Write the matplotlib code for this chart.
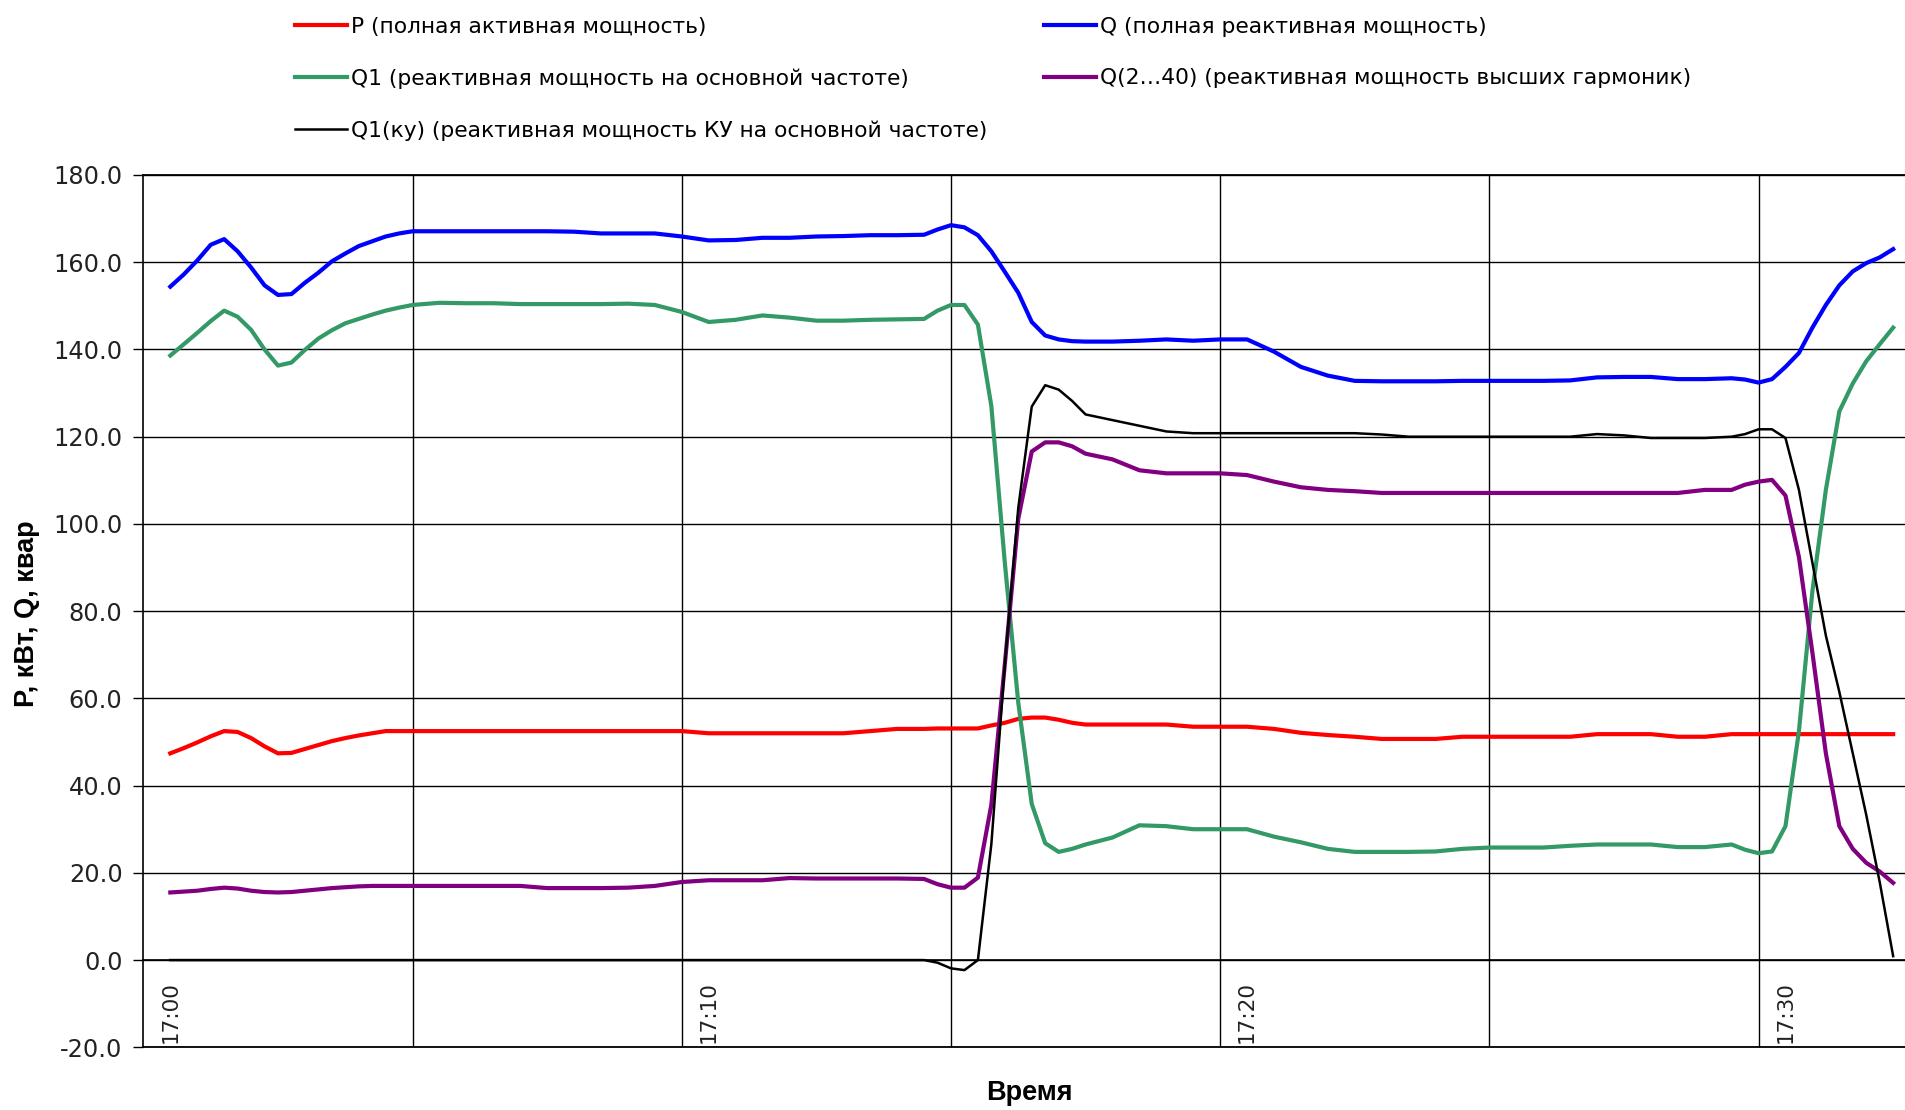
import numpy as np
import matplotlib
matplotlib.use("Agg")
import matplotlib.pyplot as plt
from matplotlib.ticker import FixedLocator, FormatStrFormatter

# время, минуты от 17:00
t_min = [0, 0.25, 0.5, 0.75, 1, 1.25, 1.5, 1.75, 2, 2.25, 2.5, 2.75, 3, 3.25, 3.5, 3.75, 4,
         4.25, 4.5, 5, 5.5, 6, 6.5, 7, 7.5, 8, 8.5, 9, 9.5,
         10, 10.5, 11, 11.5, 12, 12.5, 13, 13.5, 14, 14.25, 14.5, 14.75, 15, 15.25, 15.5,
         15.75, 16, 16.25, 16.5, 16.75, 17, 17.5, 18, 18.5, 19, 19.5, 20, 20.5, 21, 21.5,
         22, 22.5, 23, 23.5, 24, 24.5, 25, 25.5, 26, 26.5, 27, 27.5, 28, 28.5, 29, 29.25,
         29.5, 29.75, 30, 30.25, 30.5, 30.75, 31, 31.25, 31.5, 31.75, 32]

p_total = [47.4, 48.6, 49.9, 51.3, 52.5, 52.3, 50.9, 49.0, 47.4, 47.5, 48.4, 49.3, 50.2, 50.9,
           51.5, 52.0, 52.5, 52.5, 52.5, 52.5, 52.5, 52.5, 52.5,
           52.5, 52.5, 52.5, 52.5, 52.5, 52.5, 52.0, 52.0, 52.0, 52.0, 52.0, 52.0, 52.5, 53.0,
           53.0, 53.1, 53.1, 53.1, 53.1, 53.8, 54.4, 55.3, 55.6, 55.6, 55.1, 54.4, 54.0, 54.0,
           54.0, 54.0, 53.5, 53.5, 53.5, 53.0, 52.1, 51.6, 51.2, 50.7, 50.7, 50.7, 51.2, 51.2,
           51.2, 51.2, 51.2, 51.8, 51.8, 51.8, 51.2, 51.2, 51.8, 51.8, 51.8, 51.8, 51.8, 51.8,
           51.8, 51.8, 51.8, 51.8, 51.8, 51.8, 51.8]

q_total = [154.4, 157.2, 160.4, 164.0, 165.3, 162.5, 158.8, 154.7, 152.5, 152.7, 155.3, 157.6,
           160.2, 162.0, 163.7, 164.8, 165.9, 166.6, 167.1, 167.1, 167.1,
           167.1, 167.1, 167.1, 167.0, 166.6, 166.6, 166.6, 165.9, 165.0, 165.1, 165.6, 165.6,
           165.9, 166.0, 166.2, 166.2, 166.3, 167.5, 168.5, 168.0, 166.2, 162.5, 157.8, 153.0,
           146.3, 143.2, 142.3, 141.9, 141.8, 141.8, 142.0, 142.3, 142.0, 142.3, 142.3, 139.5,
           136.0, 134.0, 132.8, 132.7, 132.7, 132.7, 132.8, 132.8, 132.8, 132.8, 132.9, 133.6,
           133.7, 133.7, 133.2, 133.2, 133.4, 133.1, 132.4, 133.2, 136.0, 139.2, 145.0, 150.2,
           154.7, 157.9, 159.8, 161.1, 163.0]

q1_fund = [138.6, 141.2, 143.8, 146.5, 148.9, 147.5, 144.5, 140.0, 136.3, 137.0, 139.9, 142.5,
           144.4, 146.0, 147.0, 148.0, 148.9, 149.6, 150.2, 150.7, 150.6,
           150.6, 150.4, 150.4, 150.4, 150.4, 150.5, 150.2, 148.6, 146.3, 146.8, 147.8, 147.3,
           146.6, 146.6, 146.8, 146.9, 147.0, 148.9, 150.2, 150.2, 145.7, 127.0, 91.1, 59.0,
           35.8, 26.8, 24.8, 25.5, 26.5, 28.1, 30.9, 30.7, 30.0, 30.0, 30.0, 28.3, 27.0, 25.5,
           24.8, 24.8, 24.8, 24.9, 25.5, 25.8, 25.8, 25.8, 26.2, 26.5, 26.5, 26.5, 25.9, 25.9,
           26.5, 25.3, 24.5, 24.9, 30.7, 52.5, 84.6, 107.8, 125.8, 132.2, 137.3, 141.2, 145.0]

q_harm = [15.5, 15.7, 15.9, 16.3, 16.6, 16.4, 15.9, 15.6, 15.5, 15.6, 15.9, 16.2, 16.5, 16.7,
          16.9, 17.0, 17.0, 17.0, 17.0, 17.0, 17.0, 17.0, 17.0,
          16.5, 16.5, 16.5, 16.6, 17.0, 17.9, 18.3, 18.3, 18.3, 18.8, 18.7, 18.7, 18.7, 18.7,
          18.6, 17.4, 16.6, 16.6, 18.9, 35.6, 67.8, 101.2, 116.6, 118.7, 118.7, 117.8, 116.1,
          114.8, 112.3, 111.6, 111.6, 111.6, 111.2, 109.7, 108.4, 107.8, 107.5, 107.1, 107.1,
          107.1, 107.1, 107.1, 107.1, 107.1, 107.1, 107.1, 107.1, 107.1, 107.1, 107.8, 107.8,
          109.0, 109.7, 110.1, 106.5, 92.4, 70.5, 47.4, 30.7, 25.5, 22.3, 20.3, 17.7]

q1_comp = [0.0, 0.0, 0.0, 0.0, 0.0, 0.0, 0.0, 0.0, 0.0, 0.0, 0.0, 0.0, 0.0, 0.0, 0.0, 0.0,
           0.0, 0.0, 0.0, 0.0, 0.0, 0.0, 0.0, 0.0, 0.0, 0.0, 0.0, 0.0, 0.0, 0.0, 0.0, 0.0,
           0.0, 0.0, 0.0, 0.0, 0.0, 0.0, -0.6, -1.9, -2.3,
           0.0, 26.6, 67.7, 103.7, 126.9, 131.8, 130.8, 128.2, 125.1, 123.8, 122.5, 121.2,
           120.8, 120.8, 120.8, 120.8, 120.8, 120.8, 120.8, 120.5, 120.0, 120.0, 120.0, 120.0,
           120.0, 120.0, 120.0, 120.6, 120.3, 119.7, 119.7, 119.7, 120.0, 120.6, 121.7, 121.7,
           119.7, 107.8, 91.1, 74.4, 61.5, 47.4, 33.3, 17.9, 0.9]

tick_pos = [0, 10, 20, 30]
tick_labels = ["17:00", "17:10", "17:20", "17:30"]

W, H = 1905, 1110
fig = plt.figure(figsize=(W / 100, H / 100), dpi=100)
ax = fig.add_axes([143.4 / W, 1 - 1047.3 / H, 1 - 143.4 / W, (1047.3 - 175) / H])

l_p, = ax.plot(t_min, p_total, color="#FF0000", lw=3.0, label="P (полная активная мощность)")
l_q, = ax.plot(t_min, q_total, color="#0000FF", lw=3.0, label="Q (полная реактивная мощность)")
l_q1, = ax.plot(t_min, q1_fund, color="#339966", lw=3.0,
                label="Q1 (реактивная мощность на основной частоте)")
l_qh, = ax.plot(t_min, q_harm, color="#800080", lw=3.0,
                label="Q(2…40) (реактивная мощность высших гармоник)")
l_qk, = ax.plot(t_min, q1_comp, color="black", lw=1.8,
                label="Q1(ку) (реактивная мощность КУ на основной частоте)")

ax.set_xlim(-0.5, 32.22)
ax.set_ylim(-20, 180)

# ось категорий пересекает ось значений в нуле
ax.spines["bottom"].set_position(("data", 0))
ax.spines["bottom"].set_linewidth(1.2)
ax.spines["left"].set_linewidth(1.2)
ax.spines["top"].set_visible(False)
ax.spines["right"].set_visible(False)
ax.set_axisbelow(True)

# горизонтальная сетка и подписи оси значений
ax.yaxis.set_major_locator(FixedLocator(np.arange(-20, 181, 20)))
ax.yaxis.set_major_formatter(FormatStrFormatter("%.1f"))
ax.grid(True, axis="y", which="major", color="black", lw=1.0)
ax.axhline(-20, color="black", lw=1.3, clip_on=False)
ax.axhline(180, color="black", lw=1.3, clip_on=False)

# вертикальная сетка через каждые 5 минут, подписи через 10
ax.xaxis.set_minor_locator(FixedLocator(np.arange(4.5, 32, 5)))
ax.grid(True, axis="x", which="minor", color="black", lw=1.0)
ax.set_xticks(tick_pos)
ax.set_xticklabels(tick_labels, rotation=90, va="top", ha="center")
ax.tick_params(axis="x", which="both", length=0, pad=15, labelsize=15.5,
               labelcolor="#222222")
ax.tick_params(axis="y", length=7, width=1.0, pad=8, labelsize=17.3, labelcolor="#222222")
for lab in ax.get_xticklabels() + ax.get_yticklabels():
    lab.set_family("DejaVu Sans")

fig.text(27 / W, 1 - 614 / H, "P, кВт, Q, квар", rotation=90, ha="center", va="center",
         fontsize=19.5, fontweight="bold", family="Liberation Sans")
fig.text(1029 / W, 1 - 1093 / H, "Время", ha="center", va="center",
         fontsize=19.5, fontweight="bold", family="Liberation Sans")

handles = [l_p, l_q1, l_qk, l_q, l_qh]
fig.legend(handles, [h.get_label() for h in handles], ncol=2, loc="upper left",
           bbox_to_anchor=(275 / W, 1 + 3 / H), frameon=False,
           prop={"family": "DejaVu Sans", "size": 15.7},
           handlelength=2.4, handletextpad=0.18, labelspacing=1.45, columnspacing=2.6)

fig.savefig("out.png", dpi=100, facecolor="white")
